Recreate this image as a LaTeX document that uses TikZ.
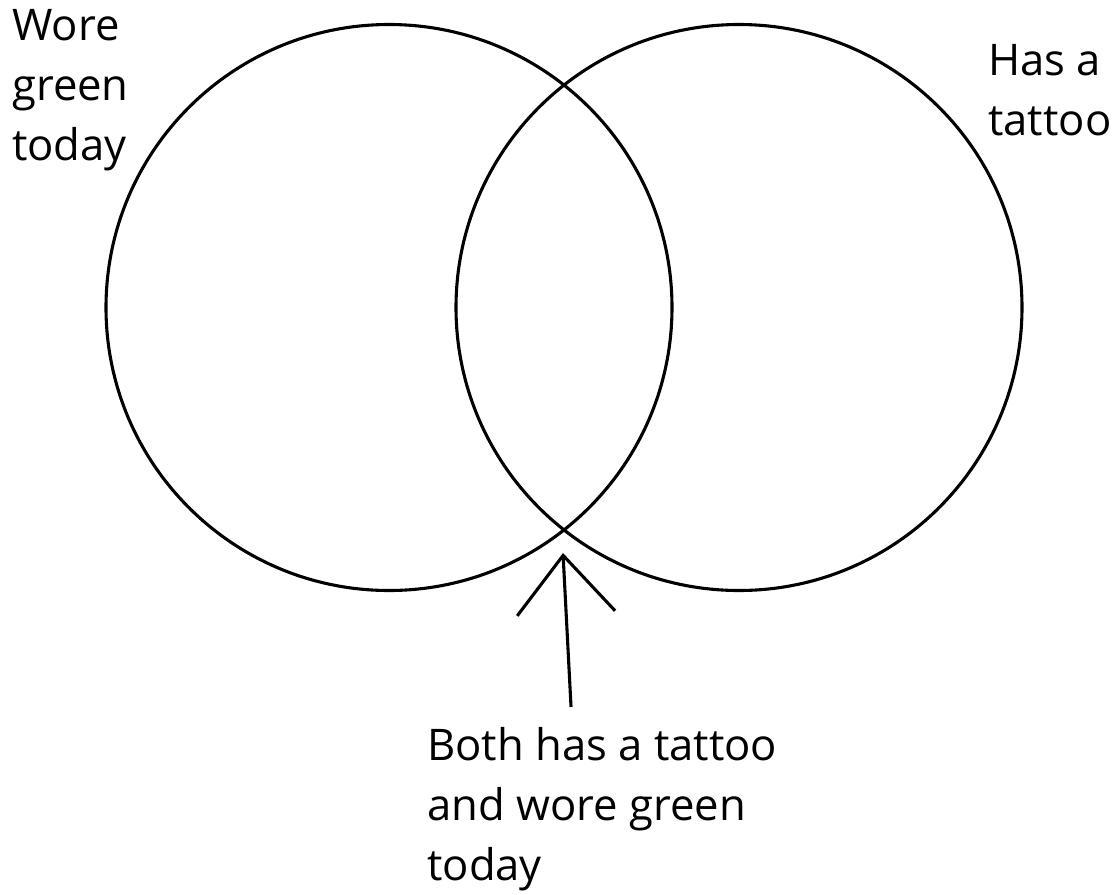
\documentclass[tikz,border=0pt]{standalone}
\usepackage{fontspec}
\setmainfont{Open Sans}
\usetikzlibrary{arrows.meta}

\begin{document}
\begin{tikzpicture}[
    x=0.025cm, y=-0.025cm,
    ring/.style={draw, line width=2.2pt},
    caption/.style={inner sep=0pt, align=left, anchor=north west,
                    font=\fontsize{31}{42.7}\selectfont},
    pointer/.style={-{Straight Barb[length=1.45cm, width=2.45cm, line width=2.2pt]},
                    line width=2.2pt}
]
\useasboundingbox[fill=white] (0,0) rectangle (1120,895);

% ── Sets ──
\draw[ring] (389,307.5) circle[radius=283] coordinate (green);
\draw[ring] (739,307.5) circle[radius=283] coordinate (ink);

% ── Labels ──
\node[caption] (wore)   at (12,9)   {Wore\\green\\today};
\node[caption] (tattoo) at (988,44) {Has a\\tattoo};
\node[caption] (both)   at (427,727) {Both has a tattoo\\and wore green\\today};

% ── Pointer to the overlap ──
\coordinate (tip) at (563,553);
\coordinate (foot) at ([xshift=3.6cm, yshift=0.5cm]both.north west);
\draw[pointer] (foot) -- (tip);

\end{tikzpicture}
\end{document}
